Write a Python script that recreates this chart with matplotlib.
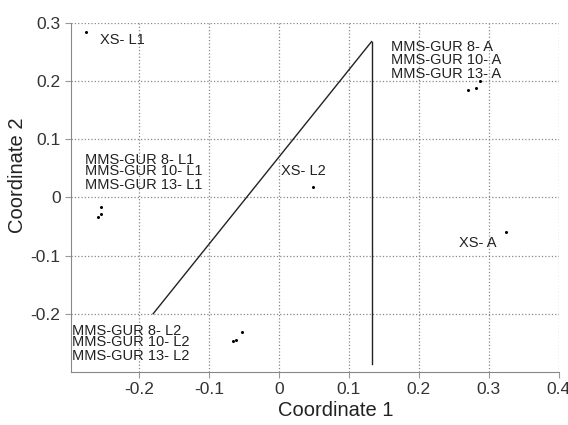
import matplotlib.pyplot as plt

plt.rcParams['font.family'] = ['Liberation Sans', 'DejaVu Sans']

# points (coordinate 1, coordinate 2)
pt_x = [-0.276, -0.2547, -0.2538, -0.259, 0.0486, 0.270, 0.282, 0.287, 0.325, -0.0533, -0.061, -0.0657]
pt_y = [0.284, -0.016, -0.028, -0.034, 0.018, 0.185, 0.188, 0.200, -0.059, -0.2316, -0.245, -0.2475]

# the drawn lines
diag_x = [-0.1796, 0.1324]
diag_y = [-0.200, 0.268]
vert_x = [0.1324, 0.1324]
vert_y = [0.268, -0.2865]

labels = ["XS- L1",
          "MMS-GUR 8- L1", "MMS-GUR 10- L1", "MMS-GUR 13- L1",
          "XS- L2",
          "MMS-GUR 8- A", "MMS-GUR 10- A", "MMS-GUR 13- A",
          "XS- A",
          "MMS-GUR 8- L2", "MMS-GUR 10- L2", "MMS-GUR 13- L2"]
lab_x = [-0.255, -0.277, -0.277, -0.277, 0.0024, 0.1596, 0.1596, 0.1596, 0.311, -0.295, -0.295, -0.295]
lab_y = [0.271, 0.065, 0.046, 0.021, 0.045, 0.258, 0.237, 0.213, -0.079, -0.229, -0.249, -0.273]
lab_ha = ['left'] * 8 + ['right'] + ['left'] * 3

xticks = [-0.2, -0.1, 0, 0.1, 0.2, 0.3, 0.4]
yticks = [-0.2, -0.1, 0, 0.1, 0.2, 0.3]

fig = plt.figure(figsize=(5.68, 4.25), dpi=100)
ax = fig.add_axes([0.125, 0.125, 0.859, 0.821])

ax.plot(diag_x, diag_y, color='#222222', lw=1.0)
ax.plot(vert_x, vert_y, color='#222222', lw=1.0)
ax.plot(pt_x, pt_y, 'o', color='black', ms=2.2, mew=0)

for t, x, y, ha in zip(labels, lab_x, lab_y, lab_ha):
    ax.text(x, y, t, ha=ha, va='center', fontsize=10.5, color='#222222')

ax.set_xlim(-0.297, 0.4)
ax.set_ylim(-0.3, 0.3)
ax.set_xticks(xticks)
ax.set_yticks(yticks)
ax.set_xticklabels(['-0.2', '-0.1', '0', '0.1', '0.2', '0.3', '0.4'])
ax.set_yticklabels(['-0.2', '-0.1', '0', '0.1', '0.2', '0.3'])
ax.tick_params(labelsize=12.5, labelcolor='#333333', length=4, width=0.8, color='#999999')

ax.grid(True, linestyle=':', color='#888888', lw=0.9)
ax.spines['top'].set_visible(False)
ax.spines['right'].set_visible(False)
ax.spines['left'].set_color('#888888')
ax.spines['bottom'].set_color('#888888')

ax.set_xlabel('Coordinate 1', fontsize=14.5, color='#222222')
ax.set_ylabel('Coordinate 2', fontsize=14.5, color='#222222')
ax.xaxis.set_label_coords(0.543, -0.083)
ax.yaxis.set_label_coords(-0.090, 0.564)

fig.savefig('out.png', dpi=100)
